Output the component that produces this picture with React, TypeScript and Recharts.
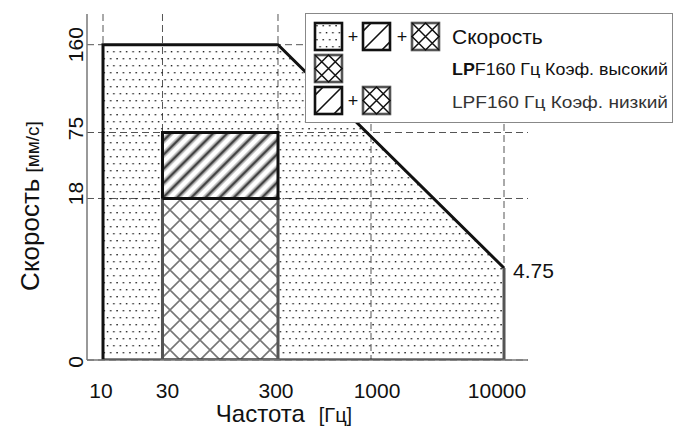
import React from 'react';
import {
  ComposedChart,
  Area,
  Line,
  XAxis,
  YAxis,
  CartesianGrid,
  ReferenceDot,
  Legend,
  Label,
} from 'recharts';

// ticks on the two (schematic) axes
const freqTicks = [10, 30, 300, 1000, 10000];
const speedTicks = [0, 18, 75, 160];

// axis breaks: [value, share of axis length]
const freqBreaks = [[7.45, 0], [10, 0.0363], [30, 0.1712], [300, 0.4331], [1000, 0.644], [10000, 0.9456], [15150, 1]];
const speedBreaks = [[0, 0], [4.75, 0.2659], [18, 0.4668], [75, 0.6575], [160, 0.9113], [190, 1]];

// velocity envelope (dotted)
const envelopeFreq = [10, 300, 10000];
const envelopeSpeed = [160, 160, 4.75];

// LPF 160 Hz bands: [fMin, fMax], [vMin, vMax]
const highCoefFreq = [30, 300];
const highCoefSpeed = [0, 18];
const lowCoefFreq = [30, 300];
const lowCoefSpeed = [18, 75];

const font = '"Liberation Sans", Arial, sans-serif';

function makeScale(anchors: number[][], log: boolean): any {
  const t = (v: number) => (log ? Math.log10(v) : v);
  const pts = anchors.map(([v, p]) => [t(v), p]);
  let dom = [anchors[0][0], anchors[anchors.length - 1][0]];
  let rng = [0, 1];
  const frac = (x: number) => {
    let i = 0;
    while (i < pts.length - 2 && x > pts[i + 1][0]) i++;
    const [x0, p0] = pts[i];
    const [x1, p1] = pts[i + 1];
    return p0 + ((x - x0) / (x1 - x0)) * (p1 - p0);
  };
  const scale: any = (v: any) => {
    const n = Number(v);
    if (!Number.isFinite(n) || (log && n <= 0)) return undefined;
    return rng[0] + (rng[1] - rng[0]) * frac(t(n));
  };
  scale.domain = (d?: number[]) => {
    if (d === undefined) return dom.slice();
    dom = d.slice();
    return scale;
  };
  scale.range = (r?: number[]) => {
    if (r === undefined) return rng.slice();
    rng = r.slice();
    return scale;
  };
  scale.copy = () => makeScale(anchors, log).domain(dom).range(rng);
  scale.ticks = () => anchors.slice(1, -1).map((a) => a[0]);
  scale.invert = (px: number) => {
    const p = (px - rng[0]) / (rng[1] - rng[0]);
    let i = 0;
    while (i < pts.length - 2 && p > pts[i + 1][1]) i++;
    const [x0, p0] = pts[i];
    const [x1, p1] = pts[i + 1];
    const x = x0 + ((p - p0) / (p1 - p0)) * (x1 - x0);
    return log ? Math.pow(10, x) : x;
  };
  return scale;
}

const freqScale = makeScale(freqBreaks, true);
const speedScale = makeScale(speedBreaks, false);

const envelopeData = envelopeFreq.map((f, i) => ({ f, v: envelopeSpeed[i] }));
const envelopeOutline = [
  { f: envelopeFreq[envelopeFreq.length - 1], v: 0 },
  { f: envelopeFreq[0], v: 0 },
  ...envelopeData,
];
const envelopeEdge = [
  { f: envelopeFreq[envelopeFreq.length - 1], v: envelopeSpeed[envelopeSpeed.length - 1] },
  { f: envelopeFreq[envelopeFreq.length - 1], v: 0 },
];

const bandTop = (fr: number[], sp: number[]) => [
  { f: fr[0], v: sp[1] },
  { f: fr[1], v: sp[1] },
];
const bandOutline = (fr: number[], sp: number[]) => [
  { f: fr[0], v: sp[0] },
  { f: fr[0], v: sp[1] },
  { f: fr[1], v: sp[1] },
  { f: fr[1], v: sp[0] },
  { f: fr[0], v: sp[0] },
];

const Patterns = () => (
  <svg width={0} height={0} style={{ position: 'absolute' }}>
    <defs>
      <pattern id="dots" width={6.4} height={14} patternUnits="userSpaceOnUse">
        <rect x={1.2} y={2} width={1.4} height={1.4} fill="#1a1a1a" />
        <rect x={4.4} y={9} width={1.4} height={1.4} fill="#1a1a1a" />
      </pattern>
      <pattern id="hatch" width={10} height={10} patternUnits="userSpaceOnUse" patternTransform="rotate(45)">
        <rect x={0} y={0} width={10} height={10} fill="#fff" />
        <rect x={2.3} y={0} width={5.4} height={10} fill="#bbb" />
        <rect x={3.8} y={0} width={2.4} height={10} fill="#444" />
      </pattern>
      <pattern id="cross" width={20} height={20} patternUnits="userSpaceOnUse">
        <rect x={0} y={0} width={20} height={20} fill="#fff" />
        <path
          d="M0,0 L20,20 M20,0 L0,20 M-5,15 L5,25 M15,-5 L25,5 M-5,5 L5,-5 M15,25 L25,15"
          stroke="#777"
          strokeWidth={1.6}
        />
      </pattern>
    </defs>
  </svg>
);

const S = 27;

const Swatch = ({ x, y, kind }: { x: number; y: number; kind: string }) => (
  <g transform={`translate(${x},${y})`}>
    <rect
      x={0}
      y={0}
      width={S}
      height={S}
      fill={kind === 'dots' ? 'url(#dots)' : '#fff'}
      stroke={kind === 'cross' ? '#555' : '#111'}
      strokeWidth={2.6}
    />
    {kind === 'slash' && (
      <path
        d={`M0,${S} L${S},0 M0,${S * 0.3} L${S * 0.3},0 M${S * 0.7},${S} L${S},${S * 0.7}`}
        stroke="#111"
        strokeWidth={1.6}
      />
    )}
    {kind === 'cross' && (
      <path
        d={`M0,0 L${S},${S} M${S},0 L0,${S} M${S / 2},0 L${S},${S / 2} L${S / 2},${S} L0,${S / 2} Z`}
        stroke="#111"
        strokeWidth={1.5}
        fill="none"
      />
    )}
  </g>
);

const Plus = ({ x, y }: { x: number; y: number }) => (
  <text x={x} y={y} textAnchor="middle" fontSize={18} fill="#111" fontFamily={font}>
    +
  </text>
);

const LegendBox = () => (
  <svg width={368} height={110} style={{ display: 'block' }}>
    <rect x={0.5} y={0.5} width={367} height={109} fill="#fff" stroke="#888" />
    <Swatch x={10} y={10} kind="dots" />
    <Plus x={48} y={30} />
    <Swatch x={58} y={10} kind="slash" />
    <Plus x={97} y={30} />
    <Swatch x={107} y={10} kind="cross" />
    <text x={147} y={31} fontSize={21} fill="#111" fontFamily={font}>
      Скорость
    </text>
    <Swatch x={10} y={42} kind="cross" />
    <text x={147} y={62} fontSize={17} fill="#111" fontFamily={font} textLength={216} lengthAdjust="spacingAndGlyphs">
      <tspan fontWeight="bold">LP</tspan>F160 Гц Коэф. высокий
    </text>
    <Swatch x={10} y={74} kind="slash" />
    <Plus x={48} y={94} />
    <Swatch x={58} y={74} kind="cross" />
    <text x={147} y={95} fontSize={17} fill="#333" fontFamily={font} textLength={216} lengthAdjust="spacingAndGlyphs">
      LPF160  Гц Коэф. низкий
    </text>
  </svg>
);

const XTick = (props: any) => {
  const { x, payload } = props;
  const nudge: Record<number, number> = { 10: -2, 30: 5, 300: -2, 1000: 6, 10000: -7 };
  return (
    <text x={x + (nudge[payload.value] ?? 0)} y={398} textAnchor="middle" fontSize={21} fill="#111" fontFamily={font}>
      {payload.value}
    </text>
  );
};

const YTick = (props: any) => {
  const { y, payload } = props;
  const nudge: Record<number, number> = { 0: 2, 18: -5, 75: -4, 160: 0 };
  return (
    <text
      transform={`translate(83,${y + (nudge[payload.value] ?? 0)}) rotate(-90)`}
      textAnchor="middle"
      fontSize={21}
      fill="#111"
      fontFamily={font}
    >
      {payload.value}
    </text>
  );
};

const YTitle = () => (
  <text transform="translate(39,206) rotate(-90)" textAnchor="middle" fill="#111" fontFamily={font}>
    <tspan fontSize={26}>Скорость</tspan>
    <tspan fontSize={19} dx={6}>[мм/с]</tspan>
  </text>
);

const XTitle = () => (
  <text x={284} y={422} textAnchor="middle" fill="#111" fontFamily={font}>
    <tspan fontSize={24}>Частота</tspan>
    <tspan fontSize={20} dx={14}>[Гц]</tspan>
  </text>
);

const EdgeLabel = (props: any) => {
  const { viewBox } = props;
  return (
    <text x={viewBox.x + viewBox.width + 8} y={viewBox.y + 11} fontSize={21} fill="#111" fontFamily={font}>
      4.75
    </text>
  );
};

export default function App() {
  return (
    <div style={{ position: 'absolute', left: 0, top: 0, background: '#fff' }}>
      <Patterns />
      <ComposedChart width={673} height={428} margin={{ top: 14, right: 145, bottom: 0, left: 0 }}>
        <CartesianGrid
          stroke="#555"
          strokeDasharray="7 4"
          strokeWidth={1}
          horizontalValues={speedTicks}
          verticalValues={freqTicks}
        />
        <XAxis
          dataKey="f"
          type="number"
          scale={freqScale}
          domain={[freqBreaks[0][0], freqBreaks[freqBreaks.length - 1][0]]}
          ticks={freqTicks}
          height={68}
          tickLine={false}
          axisLine={{ stroke: '#777', strokeWidth: 1.5 }}
          tick={<XTick />}
          allowDataOverflow
        >
          <Label content={<XTitle />} />
        </XAxis>
        <YAxis
          dataKey="v"
          type="number"
          scale={speedScale}
          domain={[speedBreaks[0][0], speedBreaks[speedBreaks.length - 1][0]]}
          ticks={speedTicks}
          width={87}
          tickLine={false}
          axisLine={{ stroke: '#777', strokeWidth: 1.5 }}
          tick={<YTick />}
          allowDataOverflow
        >
          <Label content={<YTitle />} />
        </YAxis>
        <Area
          data={envelopeData}
          dataKey="v"
          type="linear"
          baseValue={0}
          fill="url(#dots)"
          fillOpacity={1}
          stroke="none"
          isAnimationActive={false}
          legendType="none"
          activeDot={false}
        />
        <Area
          data={bandTop(lowCoefFreq, lowCoefSpeed)}
          dataKey="v"
          type="linear"
          baseValue={lowCoefSpeed[0]}
          fill="url(#hatch)"
          fillOpacity={1}
          stroke="none"
          isAnimationActive={false}
          legendType="none"
          activeDot={false}
        />
        <Area
          data={bandTop(highCoefFreq, highCoefSpeed)}
          dataKey="v"
          type="linear"
          baseValue={highCoefSpeed[0]}
          fill="url(#cross)"
          fillOpacity={1}
          stroke="none"
          isAnimationActive={false}
          legendType="none"
          activeDot={false}
        />
        <Line
          data={envelopeOutline}
          dataKey="v"
          type="linear"
          stroke="#111"
          strokeWidth={3}
          strokeLinejoin="miter"
          dot={false}
          activeDot={false}
          isAnimationActive={false}
          legendType="none"
        />
        <Line
          data={envelopeEdge}
          dataKey="v"
          type="linear"
          stroke="#555"
          strokeWidth={3}
          dot={false}
          activeDot={false}
          isAnimationActive={false}
          legendType="none"
        />
        <Line
          data={bandOutline(highCoefFreq, highCoefSpeed)}
          dataKey="v"
          type="linear"
          stroke="#555"
          strokeWidth={3}
          strokeLinejoin="miter"
          dot={false}
          activeDot={false}
          isAnimationActive={false}
          legendType="none"
        />
        <Line
          data={bandOutline(lowCoefFreq, lowCoefSpeed)}
          dataKey="v"
          type="linear"
          stroke="#111"
          strokeWidth={3}
          strokeLinejoin="miter"
          dot={false}
          activeDot={false}
          isAnimationActive={false}
          legendType="none"
        />
        <ReferenceDot
          x={envelopeFreq[envelopeFreq.length - 1]}
          y={envelopeSpeed[envelopeSpeed.length - 1]}
          r={1}
          fill="none"
          stroke="none"
          ifOverflow="visible"
          label={<EdgeLabel />}
        />
        <Legend
          layout="horizontal"
          verticalAlign="middle"
          align="center"
          content={() => <LegendBox />}
          wrapperStyle={{ left: 305, top: 13, width: 368, height: 110 }}
        />
      </ComposedChart>
    </div>
  );
}
